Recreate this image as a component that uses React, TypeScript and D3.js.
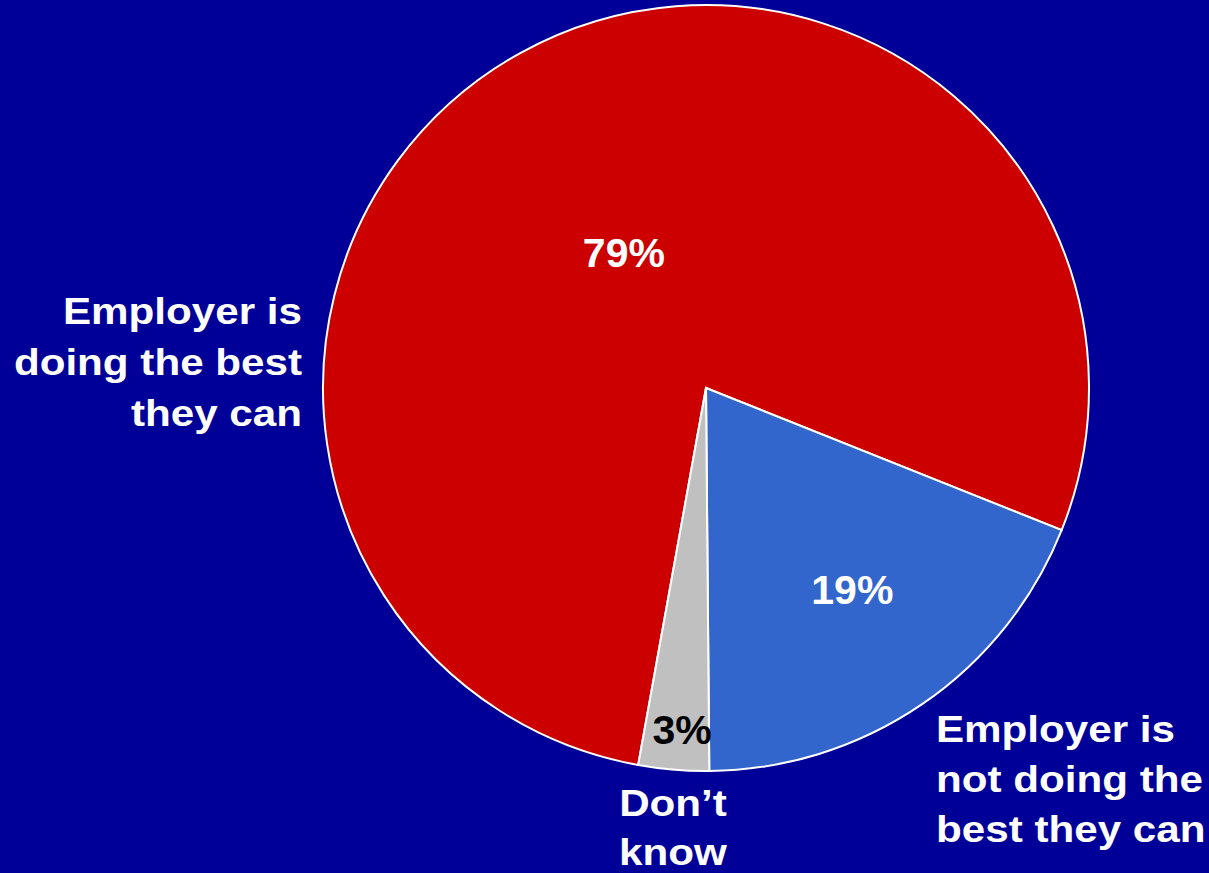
import React from "react";
import * as d3 from "d3";

const categories = ["Employer is doing the best they can", "Employer is not doing the best they can", "Don't know"];
const values = [79, 19, 3];
const percentLabels = ["79%", "19%", "3%"];
const leftLabelLines = ["Employer is", "doing the best", "they can"];
const rightLabelLines = ["Employer is", "not doing the", "best they can"];
const bottomLabelLines = ["Don’t", "know"];

const W = 1209;
const H = 873;
const cx = 706;
const cy = 388;
const R = 383;
const colors = ["#CC0000", "#3366CC", "#C0C0C0"];
const labelColors = ["#FFFFFF", "#FFFFFF", "#000000"];
// polar placement of the percent labels (degrees clockwise from top, radius)
const labelPolar: [number, number][] = [[-31.1, 159], [144, 249], [184, 342]];
const FONT = "'Liberation Sans', Arial, Helvetica, sans-serif";
const SX = 1.14;

function Label({ x, y, lines, anchor, lh }: { x: number; y: number; lines: string[]; anchor: string; lh: number }) {
  return (
    <g transform={`translate(${x},0) scale(${SX},1) translate(${-x},0)`}>
      <text fontFamily={FONT} fontWeight="bold" fontSize={37} fill="#FFFFFF" textAnchor={anchor}>
        {lines.map((l, i) => (
          <tspan key={l} x={x} y={y + i * lh}>
            {l}
          </tspan>
        ))}
      </text>
    </g>
  );
}

export default function App() {
  const pie = d3
    .pie<number>()
    .sort(null)
    .value((d) => d)
    .startAngle((-169.8 * Math.PI) / 180)
    .endAngle(((-169.8 + 360) * Math.PI) / 180);
  const arcs = pie(values);
  const arc = d3.arc<d3.PieArcDatum<number>>().innerRadius(0).outerRadius(R);

  return (
    <svg width={W} height={H} style={{ position: "absolute", left: 0, top: 0, display: "block" }}>
      <rect x={0} y={0} width={W} height={H} fill="#000099" />
      <g transform={`translate(${cx},${cy})`}>
        {arcs.map((a, i) => (
          <path key={categories[i]} d={arc(a) || ""} fill={colors[i]} stroke="#FFFFFF" strokeWidth={2} />
        ))}
        {arcs.map((a, i) => {
          const [deg, r] = labelPolar[i];
          const t = (deg * Math.PI) / 180;
          return (
            <text
              key={percentLabels[i]}
              x={r * Math.sin(t)}
              y={-r * Math.cos(t)}
              dy="0.36em"
              textAnchor="middle"
              fontFamily={FONT}
              fontWeight="bold"
              fontSize={41}
              fill={labelColors[i]}
            >
              {percentLabels[i]}
            </text>
          );
        })}
      </g>
      <Label x={302} y={324} lines={leftLabelLines} anchor="end" lh={51} />
      <Label x={936} y={742} lines={rightLabelLines} anchor="start" lh={50} />
      <Label x={673} y={816} lines={bottomLabelLines} anchor="middle" lh={49} />
    </svg>
  );
}
